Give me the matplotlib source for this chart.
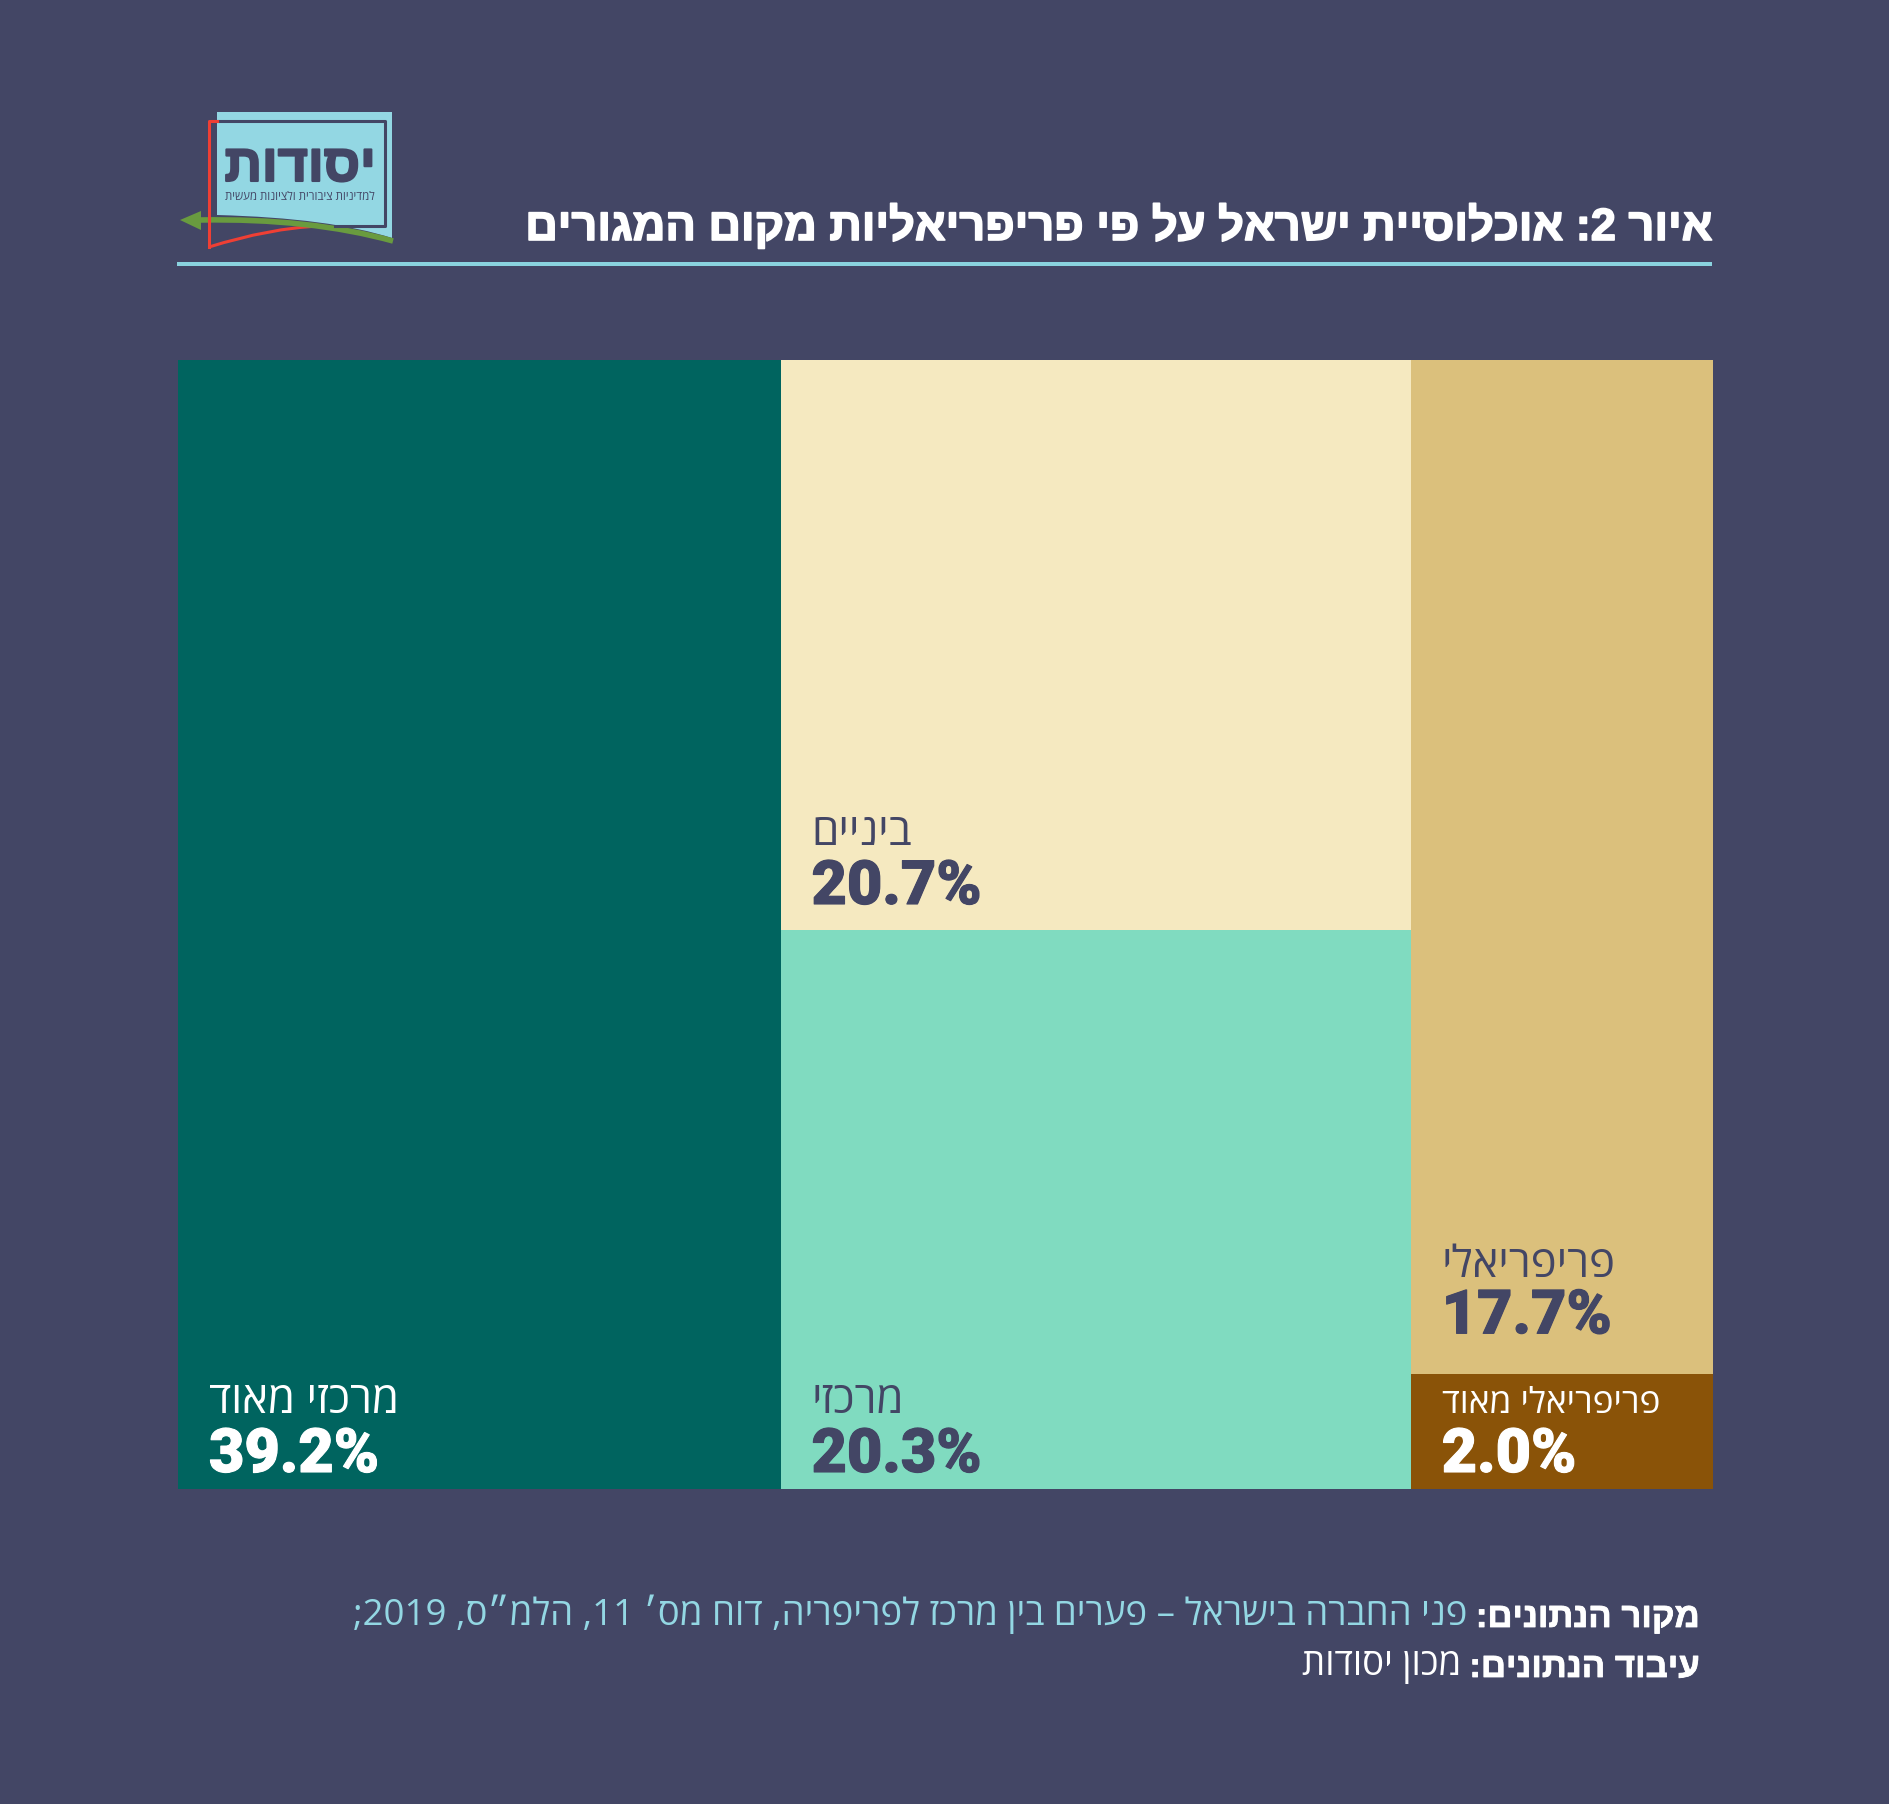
#!/usr/bin/env python
import re
import matplotlib
matplotlib.use('Agg')
import matplotlib.pyplot as plt
import matplotlib.patheffects as pe
from matplotlib.patches import PathPatch, Polygon, Rectangle
from matplotlib.path import Path

# treemap values, one list per column
col1_labels = ['מרכזי מאוד']
col1_values = [39.2]
col2_labels = ['מרכזי', 'ביניים']
col2_values = [20.3, 20.7]
col3_labels = ['פריפריאלי מאוד', 'פריפריאלי']
col3_values = [2.0, 17.7]

title = 'איור 2: אוכלוסיית ישראל על פי פריפריאליות מקום המגורים'
source_head = 'מקור הנתונים:'
source_body = 'פני החברה בישראל – פערים בין מרכז לפריפריה, דוח מס׳ 11, הלמ״ס, 2019;'
proc_head = 'עיבוד הנתונים:'
proc_body = 'מכון יסודות'
logo_name = 'יסודות'
logo_sub = 'למדיניות ציבורית ולציונות מעשית'

BG = '#434665'
LIGHT = '#93D7E3'
HEB = ['Open Sans', 'Liberation Sans']
HEB_B = 'Liberation Sans'


def vis(s):
    # matplotlib has no bidi, so lay the string out in visual order
    out = s[::-1]
    return re.sub(r'\d+', lambda m: m.group(0)[::-1], out)


def heavy(color, w):
    return [pe.withStroke(linewidth=w, foreground=color)]


fig = plt.figure(figsize=(18.9, 18.04), dpi=100, facecolor=BG)

# pixel overlay for the header, logo and footer
pg = fig.add_axes([0, 0, 1, 1])
pg.set_xlim(0, 1890)
pg.set_ylim(1804, 0)
pg.axis('off')

# treemap axes
ax = fig.add_axes([178 / 1890, 1 - 1489 / 1804, 1535.5 / 1890, 1129 / 1804])
ax.axis('off')
total = sum(col1_values) + sum(col2_values) + sum(col3_values)
ax.set_xlim(0, total)
ax.set_ylim(0, 1)

columns = [
    (col1_labels, col1_values, ['#00645F'], ['white'], [(17, 76)]),
    (col2_labels, col2_values, ['#80DBC0', '#F5E9C0'], [BG, BG], [(17, 76), (26, 85)]),
    (col3_labels, col3_values, ['#8A5308', '#DBC07C'], ['white', BG], [(17, 76), (41, 97)]),
]
left = 0
for labels, values, colors, tcolors, offs in columns:
    width = sum(values)
    bottom = 0
    for lab, val, c, tc, (o1, o2) in zip(labels, values, colors, tcolors, offs):
        h = val / width
        ax.bar(left, h, width=width, bottom=bottom, align='edge', color=c, linewidth=0)
        ax.annotate(f'{val:.1f}%', (left, bottom), xytext=(31 * 0.72, o1 * 0.72),
                    textcoords='offset points', color=tc, fontsize=44,
                    family='Roboto', fontweight='black', ha='left', va='baseline',
                    path_effects=heavy(tc, 0.8))
        size = 25.4 if len(lab) > 10 and val < 5 else 31.5
        ax.annotate(vis(lab), (left, bottom), xytext=(31 * 0.72, o2 * 0.72),
                    textcoords='offset points', color=tc, fontsize=size,
                    family=HEB, ha='left', va='baseline')
        bottom += h
    left += width

# title and rule
pg.text(1712, 240, vis(title), color='white', fontsize=32.5, family=HEB_B,
        fontweight='bold', ha='right', va='baseline', path_effects=heavy('white', 1.2))
pg.add_patch(Rectangle((177, 262), 1535, 4, color='#8AD3DF', lw=0))

# logo
M, L, C = Path.MOVETO, Path.LINETO, Path.CURVE3
pg.add_patch(PathPatch(Path([(217, 112), (392, 112), (392, 238), (330, 218), (217, 215), (217, 112)],
                            [M, L, L, C, C, L]), fc=LIGHT, lw=0))
pg.plot([217, 385, 385, 335], [121, 121, 226, 226], color=BG, lw=2.2)
pg.plot([217, 209, 209], [121, 121, 247], color='#EF3F34', lw=2.2)
pg.add_patch(PathPatch(Path([(209, 247), (270, 228), (320, 226)], [M, C, C]), fc='none',
                       ec='#EF3F34', lw=2.2))
pg.add_patch(PathPatch(Path([(393, 241), (310, 218), (200, 220)], [M, C, C]), fc='none',
                       ec='#699B3F', lw=4))
pg.add_patch(Polygon([(180, 220), (201, 211), (201, 230)], fc='#699B3F', lw=0))
pg.text(300, 181, vis(logo_name), color=BG, fontsize=37.5, family=HEB_B, fontweight='bold',
        ha='center', va='baseline', path_effects=heavy(BG, 1.5))
pg.text(300, 200, vis(logo_sub), color=BG, fontsize=8.3, family=HEB, ha='center', va='baseline')

# footer
for y, head, body, col in [(1627, source_head, source_body, LIGHT),
                           (1677, proc_head, proc_body, 'white')]:
    t = pg.text(1700, y, vis(head), color='white', fontsize=25, family=HEB_B,
                fontweight='bold', ha='right', va='baseline', path_effects=heavy('white', 0.6))
    pg.annotate(vis(body), xy=(0, 0), xycoords=t, xytext=(-6, 0),
                textcoords='offset points', color=col, fontsize=26.4, family=HEB,
                ha='right', va='bottom')

fig.savefig('out.png', dpi=100, facecolor=BG)
